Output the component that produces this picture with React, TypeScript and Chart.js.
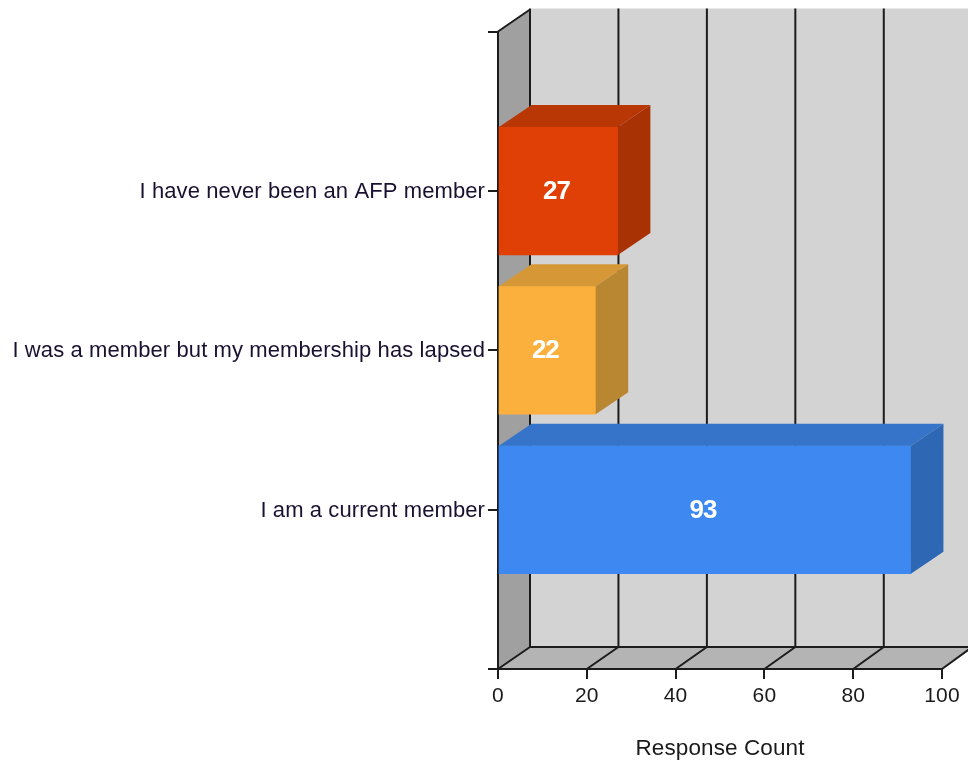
import React, { useEffect, useRef } from "react";
import { Chart, registerables } from "chart.js";

Chart.register(...registerables);

const categories = ["", "I have never been an AFP member", "I was a member but my membership has lapsed", "I am a current member", ""];
const responseCounts = [null, 27, 22, 93, null];
const frontColors = ["#E04006", "#E04006", "#FBB03E", "#3D89F1", "#3D89F1"];
const topColors = ["#B93705", "#B93705", "#D69836", "#3574C8", "#3574C8"];
const sideColors = ["#A83204", "#A83204", "#B98631", "#2E68B4", "#2E68B4"];
const axisTitle = "Response Count";

const DX = 32.5;
const DY = 22;
const LINE = "#1c1c1c";
const SPACING = "0.1px";

function poly(ctx: CanvasRenderingContext2D, pts: number[][], fill: string) {
  ctx.beginPath();
  pts.forEach((p, i) => (i ? ctx.lineTo(p[0], p[1]) : ctx.moveTo(p[0], p[1])));
  ctx.closePath();
  ctx.fillStyle = fill;
  ctx.fill();
}

function seg(ctx: CanvasRenderingContext2D, a: number, b: number, c: number, d: number) {
  ctx.beginPath();
  ctx.moveTo(a, b);
  ctx.lineTo(c, d);
  ctx.stroke();
}

const box3d = {
  id: "box3d",
  beforeUpdate(chart: any) {
    chart.ctx.letterSpacing = SPACING;
  },
  beforeDraw(chart: any) {
    const { ctx, chartArea: a, scales } = chart;
    ctx.letterSpacing = SPACING;
    const l = a.left, r = a.right, t = a.top, b = a.bottom;
    ctx.save();
    poly(ctx, [[l + DX, t - DY - 1], [r + DX, t - DY - 1], [r + DX, b - DY], [l + DX, b - DY]], "#D3D3D3");
    poly(ctx, [[l, t], [l + DX, t - DY], [l + DX, b - DY], [l, b]], "#A0A0A0");
    poly(ctx, [[l, b], [l + DX, b - DY], [r + DX, b - DY], [r, b]], "#B4B4B4");
    ctx.strokeStyle = LINE;
    ctx.lineWidth = 2;
    scales.x.ticks.forEach((tk: any) => {
      const x = scales.x.getPixelForValue(tk.value);
      const bx = x + 32 - (x - l) * 0.004;
      seg(ctx, bx, t - DY - 1, bx, b - DY);
      seg(ctx, x, b, bx, b - DY);
    });
    seg(ctx, l, t, l + 32, t - DY);
    seg(ctx, l + 32, b - DY, r + DX, b - DY);
    ctx.restore();
  },
  afterDatasetsDraw(chart: any) {
    const { ctx } = chart;
    const meta = chart.getDatasetMeta(0);
    ctx.save();
    meta.data.forEach((el: any, i: number) => {
      const v = responseCounts[i];
      if (v === null) return;
      const { x, y, base, height } = el.getProps(["x", "y", "base", "height"], true);
      const top = y - height / 2;
      const bot = y + height / 2;
      poly(ctx, [[base, top], [base + DX, top - DY], [x + DX, top - DY], [x, top]], topColors[i]);
      poly(ctx, [[x, top], [x + DX, top - DY], [x + DX, bot - DY], [x, bot]], sideColors[i]);
      ctx.letterSpacing = "-1px";
      ctx.font = "bold 26px 'Liberation Sans'";
      ctx.fillStyle = "#FFFFFF";
      ctx.textAlign = "center";
      ctx.textBaseline = "middle";
      ctx.fillText(String(v), (base + x) / 2 - 2, y + 1);
    });
    ctx.restore();
  },
};

export default function App() {
  const ref = useRef<HTMLCanvasElement>(null);
  useEffect(() => {
    const canvas = ref.current!;
    const font = { family: "'Liberation Sans'", size: 22 };
    const chart = new Chart(canvas, {
      type: "bar",
      data: {
        labels: categories,
        datasets: [{
          data: responseCounts,
          backgroundColor: frontColors,
          borderWidth: 0,
          barThickness: 128,
        }],
      },
      plugins: [box3d],
      options: {
        indexAxis: "y",
        responsive: false,
        animation: false,
        layout: { padding: { top: 31.5, right: 26, bottom: 0, left: 0 } },
        plugins: { legend: { display: false }, tooltip: { enabled: false } },
        scales: {
          x: {
            type: "linear",
            min: 0,
            max: 100,
            ticks: { stepSize: 20, color: "#1a1a1a", font: { ...font, size: 21 }, padding: 5, maxRotation: 0 },
            grid: { drawOnChartArea: false, drawTicks: true, tickLength: 10, color: LINE, lineWidth: 2 },
            border: { display: true, color: LINE, width: 2 },
            title: { display: true, text: axisTitle, color: "#1a1a1a", font: { ...font, size: 22.5 }, padding: { top: 0, bottom: 1 } },
            afterFit(s: any) { s.height = 94; },
          },
          y: {
            type: "category",
            offset: false,
            ticks: { autoSkip: false, color: "#1a1030", font, padding: 3, labelOffset: 1 },
            grid: { drawOnChartArea: false, drawTicks: true, tickLength: 10, color: LINE, lineWidth: 2, offset: false },
            border: { display: true, color: LINE, width: 2 },
            afterFit(s: any) { s.width = 498; },
          },
        },
      } as any,
    });
    return () => chart.destroy();
  }, []);
  return (
    <div style={{ position: "fixed", left: 0, top: 0, width: 968, height: 763, overflow: "hidden", background: "#fff" }}>
      <canvas ref={ref} width={968} height={763} style={{ display: "block", filter: "blur(0.6px)" }} />
    </div>
  );
}
